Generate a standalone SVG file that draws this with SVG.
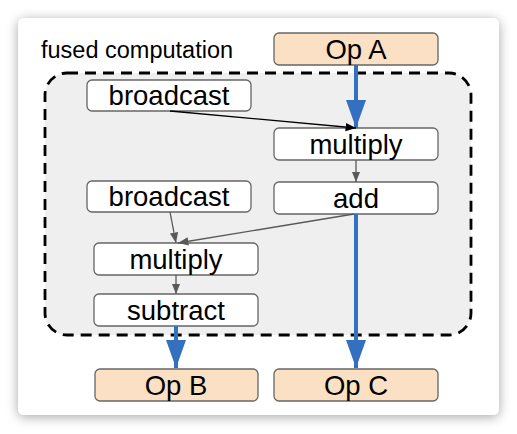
<svg xmlns="http://www.w3.org/2000/svg" width="517" height="434" viewBox="0 0 517 434">
<defs>
<filter id="sh" x="-10%" y="-10%" width="120%" height="120%">
<feDropShadow dx="0" dy="2" stdDeviation="6" flood-color="#000" flood-opacity="0.35"/>
</filter>
<marker id="ab" viewBox="0 0 10 10" refX="10" refY="5" markerWidth="7" markerHeight="5" markerUnits="strokeWidth" orient="auto" preserveAspectRatio="none">
<path d="M0,0 L10,5 L0,10 z" fill="#3370bf"/>
</marker>
<marker id="ak" viewBox="0 0 10 10" refX="10" refY="5" markerWidth="8" markerHeight="8" markerUnits="strokeWidth" orient="auto">
<path d="M0,1 L10,5 L0,9 z" fill="#000"/>
</marker>
<marker id="ag" viewBox="0 0 10 10" refX="10" refY="5" markerWidth="8" markerHeight="8" markerUnits="strokeWidth" orient="auto">
<path d="M0,1 L10,5 L0,9 z" fill="#595959"/>
</marker>
</defs>
<style>
.n rect{fill:#fff;stroke:#666;stroke-width:1.3}
.op rect{fill:#fbe0c3;stroke:#666;stroke-width:1.3}
text{font-family:"Liberation Sans",Arial,sans-serif;fill:#000}
.n text,.op text{font-size:27.5px;text-anchor:middle}
.blue{stroke:#3370bf;stroke-width:4;fill:none}
.grey{stroke:#595959;stroke-width:1.3;fill:none}
.blk{stroke:#000;stroke-width:1.3;fill:none}
</style>
<rect x="18" y="18" width="481" height="397" rx="6" fill="#fff" filter="url(#sh)"/>
<rect id="fused" x="45" y="73" width="426" height="262" rx="22" fill="#efefef" stroke="#000" stroke-width="2.8" stroke-dasharray="11,7"/>
<text x="41" y="58" font-size="23.5">fused computation</text>
<g id="opA" class="op"><rect x="274" y="33" width="164" height="32" rx="5"/><text x="356" y="59">Op A</text></g>
<g id="broadcast1" class="n"><rect x="87" y="80" width="164" height="31" rx="5"/><text x="169" y="105">broadcast</text></g>
<g id="multiply1" class="n"><rect x="274" y="128" width="164" height="32" rx="5"/><text x="356" y="154">multiply</text></g>
<g id="broadcast2" class="n"><rect x="87" y="181" width="164" height="31" rx="5"/><text x="169" y="206">broadcast</text></g>
<g id="add" class="n"><rect x="274" y="182" width="164" height="32" rx="5"/><text x="356" y="208">add</text></g>
<g id="multiply2" class="n"><rect x="94" y="243" width="164" height="32" rx="5"/><text x="176" y="269">multiply</text></g>
<g id="subtract" class="n"><rect x="94" y="294" width="164" height="32" rx="5"/><text x="176" y="320">subtract</text></g>
<g id="opB" class="op"><rect x="95" y="369" width="163" height="32" rx="5"/><text x="176" y="395">Op B</text></g>
<g id="opC" class="op"><rect x="274" y="369" width="164" height="32" rx="5"/><text x="356" y="395">Op C</text></g>
<g id="connectors">
<line class="blue" x1="356" y1="65" x2="356" y2="128" marker-end="url(#ab)"/>
<line class="blk" x1="170" y1="111" x2="356" y2="128" marker-end="url(#ak)"/>
<line class="grey" x1="356" y1="160" x2="356" y2="182" marker-end="url(#ag)"/>
<line class="blue" x1="356" y1="214" x2="356" y2="368" marker-end="url(#ab)"/>
<line class="grey" x1="354" y1="214" x2="178" y2="243" marker-end="url(#ag)"/>
<line class="grey" x1="170" y1="212" x2="176" y2="243" marker-end="url(#ag)"/>
<line class="grey" x1="176" y1="275" x2="176" y2="294" marker-end="url(#ag)"/>
<line class="blue" x1="176" y1="326" x2="176" y2="368" marker-end="url(#ab)"/>
</g>
</svg>
